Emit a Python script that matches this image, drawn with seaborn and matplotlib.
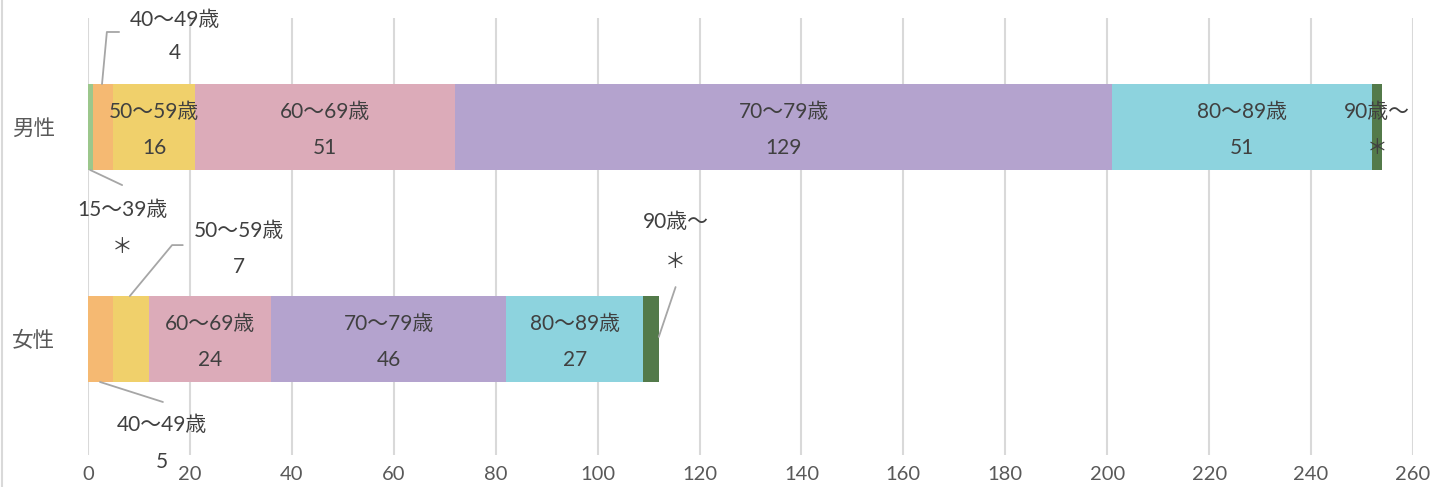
import matplotlib
matplotlib.use("Agg")
import matplotlib.pyplot as plt
import seaborn as sns
import numpy as np
import pandas as pd
from matplotlib.lines import Line2D

categories = ["男性", "女性"]
age_groups = ["15～39歳", "40～49歳", "50～59歳", "60～69歳", "70～79歳", "80～89歳", "90歳～"]
men_values = [1, 4, 16, 51, 129, 51, 2]
women_values = [0, 5, 7, 24, 46, 27, 3]
men_labels = ["＊", "4", "16", "51", "129", "51", "＊"]
women_labels = ["", "5", "7", "24", "46", "27", "＊"]
colors = ["#9cc78c", "#f5b972", "#f0d06b", "#dcabb9", "#b4a3ce", "#8dd3de", "#537a4a"]
x_ticks = list(range(0, 261, 20))

sns.set_theme(style="white")
plt.rcParams["font.family"] = ["Lato", "Noto Sans CJK JP", "DejaVu Sans"]

fig = plt.figure(figsize=(14.31, 4.87), dpi=100)
ax = fig.add_axes([88 / 1431, 32 / 487, (1413 - 88) / 1431, (455 - 18) / 487])

men_cum = np.cumsum(men_values)
women_cum = np.cumsum(women_values)
bar_w = 0.405
for i in range(len(age_groups) - 1, -1, -1):
    df = pd.DataFrame({"cat": categories, "val": [men_cum[i], women_cum[i]]})
    sns.barplot(data=df, x="val", y="cat", orient="h", color=colors[i],
                saturation=1, width=bar_w, ax=ax, linewidth=0, zorder=2)

ax.set_xlim(0, 260)
ax.set_ylim(1.547, -0.514)
ax.set_xticks(x_ticks)
ax.set_xticklabels([str(t) for t in x_ticks])
ax.set_xlabel("")
ax.set_ylabel("")
ax.grid(axis="x", color="#d9d9d9", linewidth=1.5, zorder=0)
ax.grid(axis="y", visible=False)
ax.set_axisbelow(True)
for s in ax.spines.values():
    s.set_visible(False)
ax.tick_params(axis="x", length=0, pad=8, labelsize=14.5, labelcolor="#595959")
ax.tick_params(axis="y", length=0, pad=24, labelsize=15.5, labelcolor="#595959")

tc = "#404040"
fs = 15
lc = "#a6a6a6"

def seg_center(cum, vals, i):
    return cum[i] - vals[i] / 2

# inside labels
for row, (cum, vals, labs) in enumerate([(men_cum, men_values, men_labels),
                                          (women_cum, women_values, women_labels)]):
    inside = [2, 3, 4, 5, 6] if row == 0 else [3, 4, 5]
    for i in inside:
        xc = seg_center(cum, vals, i)
        ax.text(xc, row - 0.07, age_groups[i], ha="center", va="center", fontsize=fs, color=tc, zorder=5)
        ax.text(xc, row + 0.10, labs[i], ha="center", va="center", fontsize=fs, color=tc, zorder=5)

# men outside labels
ax.text(6.7, 0.39, age_groups[0], ha="center", va="center", fontsize=fs, color=tc)
ax.text(6.7, 0.566, men_labels[0], ha="center", va="center", fontsize=fs, color=tc)
ax.plot([0.4, 6.7], [bar_w / 2, 0.274], color=lc, lw=1.3, zorder=4)

ax.text(17.1, -0.505, age_groups[1], ha="center", va="center", fontsize=fs, color=tc, clip_on=False)
ax.text(17.1, -0.349, men_labels[1], ha="center", va="center", fontsize=fs, color=tc)
ax.plot([2.75, 3.7, 6.1], [-bar_w / 2, -0.448, -0.448], color=lc, lw=1.3, zorder=4)

# women outside labels
ax.text(14.5, 1.406, age_groups[1], ha="center", va="center", fontsize=fs, color=tc)
ax.text(14.5, 1.58, women_labels[1], ha="center", va="center", fontsize=fs, color=tc, clip_on=False)
ax.plot([2.35, 14.7], [1 + bar_w / 2, 1.297], color=lc, lw=1.3, zorder=4)

ax.text(29.6, 0.49, age_groups[2], ha="center", va="center", fontsize=fs, color=tc)
ax.text(29.6, 0.66, women_labels[2], ha="center", va="center", fontsize=fs, color=tc)
ax.plot([8.2, 16.5, 18.6], [1 - bar_w / 2, 0.557, 0.557], color=lc, lw=1.3, zorder=4)

ax.text(115.3, 0.448, age_groups[6], ha="center", va="center", fontsize=fs, color=tc)
ax.text(115.3, 0.637, women_labels[6], ha="center", va="center", fontsize=fs, color=tc)
ax.plot([women_cum[6], 115.3], [0.99, 0.755], color=lc, lw=1.3, zorder=4)

fig.add_artist(Line2D([1.5 / 1431, 1.5 / 1431], [0, 1], color="#d9d9d9", lw=1.5))

fig.savefig("out.png", dpi=100)
